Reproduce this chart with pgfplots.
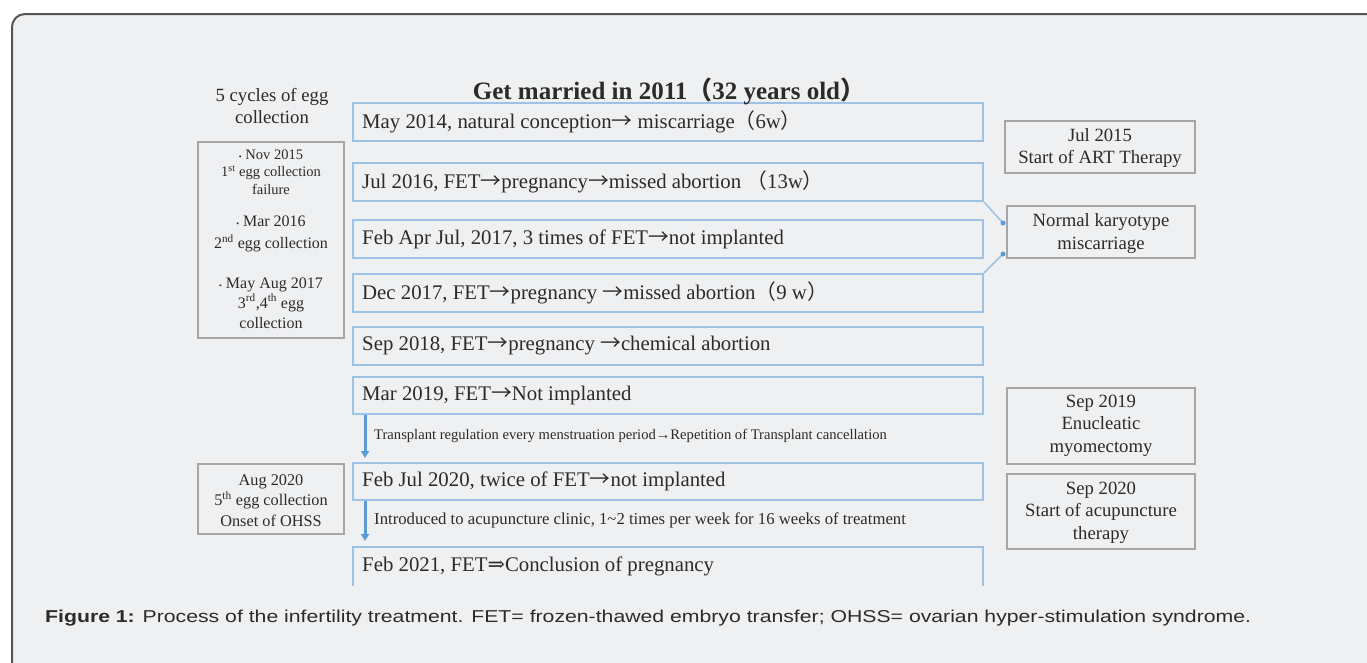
\documentclass[border=0pt]{standalone}
\usepackage{fontspec}
\setmainfont{Liberation Serif}
\newfontfamily\arial[FakeStretch=1.234]{Liberation Sans}
\newfontfamily\cjk{Noto Sans CJK SC}
\newfontfamily\dvs{DejaVu Serif}
\newcommand{\ar}{{\cjk →}}
\usepackage{pgfplots}
\pgfplotsset{compat=1.18}
\usetikzlibrary{arrows.meta}
\definecolor{bgc}{HTML}{EFF0F2}
\definecolor{frame}{HTML}{555555}
\definecolor{bbor}{HTML}{9CC2E5}
\definecolor{gbor}{HTML}{A6A6A6}
\definecolor{arr}{HTML}{5B9BD5}
\definecolor{txt}{HTML}{2B2B2B}
\begin{document}
\begin{tikzpicture}
\begin{axis}[
  width=1367pt, height=662pt, scale only axis,
  xmin=0, xmax=1367, ymin=0, ymax=662, y dir=reverse,
  axis lines=none, ticks=none, clip=true,
]
% outer frame
\draw[frame, line width=2pt, fill=bgc, rounded corners=13pt] (axis cs:12,14) rectangle (axis cs:1385,676);
% main blue boxes
\draw[bbor, line width=2.4pt] (axis cs:353,103) rectangle (axis cs:983,141);
\draw[bbor, line width=2.4pt] (axis cs:353,163) rectangle (axis cs:983,201);
\draw[bbor, line width=2.4pt] (axis cs:353,220) rectangle (axis cs:983,258);
\draw[bbor, line width=2.4pt] (axis cs:353,274) rectangle (axis cs:983,312);
\draw[bbor, line width=2.4pt] (axis cs:353,327) rectangle (axis cs:983,365);
\draw[bbor, line width=2.4pt] (axis cs:353,377) rectangle (axis cs:983,414);
\draw[bbor, line width=2.4pt] (axis cs:353,463) rectangle (axis cs:983,500);
\draw[bbor, line width=2.4pt] (axis cs:353,586) -- (axis cs:353,547) -- (axis cs:983,547) -- (axis cs:983,586);
% texts in main boxes
\begin{scope}[every node/.style={anchor=west, inner sep=0pt, text=txt, font=\fontsize{20.8}{22}\selectfont}]
\node at (axis cs:362,122) {May 2014, natural conception\ar\ miscarriage{\cjk （}6w{\cjk ）}};
\node at (axis cs:362,182) {Jul 2016, FET\ar pregnancy\ar missed abortion {\cjk （}13w{\cjk ）}};
\node at (axis cs:362,239) {Feb Apr Jul, 2017, 3 times of FET\ar not implanted};
\node at (axis cs:362,293) {Dec 2017, FET\ar pregnancy \ar missed abortion{\cjk （}9 w{\cjk ）}};
\node at (axis cs:362,346) {Sep 2018, FET\ar pregnancy \ar chemical abortion};
\node at (axis cs:362,395) {Mar 2019, FET\ar Not implanted};
\node at (axis cs:362,481) {Feb Jul 2020, twice of FET\ar not implanted};
\node at (axis cs:362,566) {Feb 2021, FET{\dvs ⇒}Conclusion of pregnancy};
\end{scope}
% title
\node[text=txt, font=\fontsize{25}{27}\selectfont\bfseries] at (axis cs:669,91) {Get married in 2011{\cjk\bfseries （}32 years old{\cjk\bfseries ）}};
% arrows
\draw[arr, line width=3pt, -{Triangle[width=8pt,length=7pt]}] (axis cs:365,415) -- (axis cs:365,458);
\draw[arr, line width=3pt, -{Triangle[width=8pt,length=7pt]}] (axis cs:365,501) -- (axis cs:365,541);
\node[anchor=west, inner sep=0pt, text=txt, font=\fontsize{14.6}{16}\selectfont] at (axis cs:374,436) {Transplant regulation every menstruation period→Repetition of Transplant cancellation};
\node[anchor=west, inner sep=0pt, text=txt, font=\fontsize{16.7}{18}\selectfont] at (axis cs:374,520) {Introduced to acupuncture clinic, 1\textasciitilde2 times per week for 16 weeks of treatment};
% connectors
\draw[bbor, line width=1.5pt] (axis cs:984,202) -- (axis cs:1003,223);
\draw[bbor, line width=1.5pt] (axis cs:984,273) -- (axis cs:1003,254);
\fill[arr] (axis cs:1003,223) circle (2.5pt);
\fill[arr] (axis cs:1003,254) circle (2.5pt);
% right boxes
\draw[gbor, line width=1.5pt] (axis cs:1005,121) rectangle (axis cs:1195,173);
\draw[gbor, line width=1.5pt] (axis cs:1007,206) rectangle (axis cs:1195,258);
\draw[gbor, line width=1.5pt] (axis cs:1007,388) rectangle (axis cs:1195,464);
\draw[gbor, line width=1.5pt] (axis cs:1007,474) rectangle (axis cs:1195,549);
\begin{scope}[every node/.style={align=center, inner sep=0pt, text=txt, font=\fontsize{18.7}{22.3}\selectfont}]
\node at (axis cs:1100,148) {Jul 2015\\Start of ART Therapy};
\node at (axis cs:1101,233.5) {Normal karyotype\\miscarriage};
\node at (axis cs:1101,425.5) {Sep 2019\\Enucleatic\\myomectomy};
\node at (axis cs:1101,512.5) {Sep 2020\\Start of acupuncture\\therapy};
\node at (axis cs:272,106) {5 cycles of egg\\collection};
\end{scope}
% left boxes
\draw[gbor, line width=1.5pt] (axis cs:198,142) rectangle (axis cs:344,338);
\draw[gbor, line width=1.5pt] (axis cs:198,464) rectangle (axis cs:344,534);
\node[align=center, inner sep=0pt, text=txt, font=\fontsize{14.5}{17.5}\selectfont] at (axis cs:271,172) {{\fontsize{8}{8}\selectfont\textbullet} Nov 2015\\1\textsuperscript{st} egg collection\\failure};
\node[align=center, inner sep=0pt, text=txt, font=\fontsize{16}{22}\selectfont] at (axis cs:271,234) {{\fontsize{8}{8}\selectfont\textbullet} Mar 2016\\2\textsuperscript{nd} egg collection};
\node[align=center, inner sep=0pt, text=txt, font=\fontsize{16}{20}\selectfont] at (axis cs:271,303) {{\fontsize{8}{8}\selectfont\textbullet} May Aug 2017\\3\textsuperscript{rd},4\textsuperscript{th} egg\\collection};
\node[align=center, inner sep=0pt, text=txt, font=\fontsize{16.3}{20.5}\selectfont] at (axis cs:271,500.5) {Aug 2020\\5\textsuperscript{th} egg collection\\Onset of OHSS};
% caption
\node[anchor=west, inner sep=0pt, text=txt, font=\arial\fontsize{17.2}{20}\selectfont] at (axis cs:45,618) {\textbf{Figure 1:} Process of the infertility treatment. FET= frozen-thawed embryo transfer; OHSS= ovarian hyper-stimulation syndrome.};
\end{axis}
\pgfresetboundingbox
\useasboundingbox (0,0) rectangle (1367pt,662pt);
\end{tikzpicture}
\end{document}
